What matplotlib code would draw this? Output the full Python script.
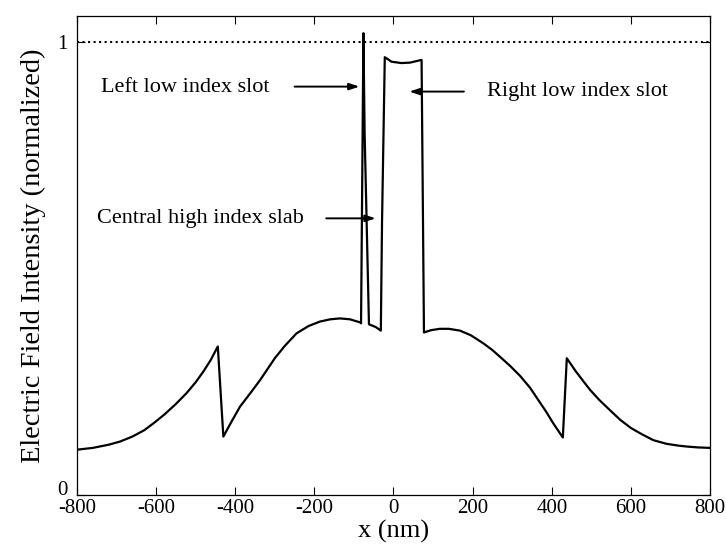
import numpy as np
import matplotlib.pyplot as plt

plt.rcParams['font.family'] = ['Liberation Serif', 'DejaVu Serif']
plt.rcParams['axes.unicode_minus'] = False

# field profile (x in nm, normalized intensity)
x_nm = [-800, -760, -720, -691, -660, -630, -607, -580, -550, -523, -500, -481, -462, -444,
        -430, -410, -388, -360, -337, -320, -300, -275, -245, -215, -186, -160, -135, -110, -95, -83,
        -82, -78, -76, -73, -62, -45, -32,
        -29, -22, -5, 20, 42, 71,
        77, 95, 117, 140, 168, 195, 227, 250, 272, 296, 320, 345, 365, 385, 404, 428,
        438, 460, 480, 497, 520, 545, 573, 600, 628, 657, 690, 720, 741, 770, 800]
intensity = [0.099, 0.103, 0.110, 0.117, 0.128, 0.142, 0.157, 0.176, 0.200, 0.224, 0.248, 0.271, 0.297, 0.327,
             0.128, 0.160, 0.194, 0.226, 0.253, 0.275, 0.301, 0.328, 0.356, 0.372, 0.382, 0.387, 0.389, 0.387, 0.383, 0.380,
             0.378, 0.80, 1.019, 0.80, 0.376, 0.370, 0.362,
             0.60, 0.966, 0.956, 0.953, 0.954, 0.960,
             0.358, 0.363, 0.366, 0.366, 0.362, 0.352, 0.334, 0.319, 0.302, 0.283, 0.262, 0.236, 0.210, 0.184, 0.157, 0.126,
             0.301, 0.273, 0.250, 0.231, 0.209, 0.188, 0.165, 0.147, 0.133, 0.120, 0.112, 0.108, 0.106, 0.104, 0.103]

x_ticks = [-800, -600, -400, -200, 0, 200, 400, 600, 800]
y_ticks = [0, 1]

# annotations: text, text position, arrow tail, arrow head
notes = [
    ("Left low index slot", (-738, 0.900), (-257, 0.901), (-79, 0.901)),
    ("Right low index slot", (237, 0.890), (185, 0.890), (33, 0.890)),
    ("Central high index slab", (-750, 0.610), (-177, 0.610), (-38, 0.610)),
]

fig = plt.figure(figsize=(7.26, 5.51), dpi=100)
ax = fig.add_axes([0.106, 0.1025, 0.872, 0.8685])

ax.plot(x_nm, intensity, color='black', lw=1.6)
ax.axhline(1.0, color='black', lw=1.5, ls=':')

for txt, tpos, tail, head in notes:
    ax.text(tpos[0], tpos[1], txt, fontsize=16, ha='left', va='center')
    ax.annotate('', xy=head, xytext=tail,
                arrowprops=dict(arrowstyle='-|>,head_length=0.6,head_width=0.2',
                                color='black', lw=1.4))

ax.set_xlim(-800, 800)
ax.set_ylim(0, 1.057)
ax.set_xticks(x_ticks)
ax.set_yticks(y_ticks)
ax.set_yticklabels(['0', '1'])
ax.tick_params(direction='in', top=True, right=True, labelsize=15, length=5.5, width=0.8)
ax.tick_params(axis='y', pad=7)
ax.get_yticklabels()[0].set_verticalalignment('baseline')
for s in ax.spines.values():
    s.set_linewidth(0.9)

ax.set_xlabel('x (nm)', fontsize=19, labelpad=1)
ax.set_ylabel('Electric Field Intensity (normalized)', fontsize=20.5, labelpad=8)

fig.savefig('out.png', dpi=100)
